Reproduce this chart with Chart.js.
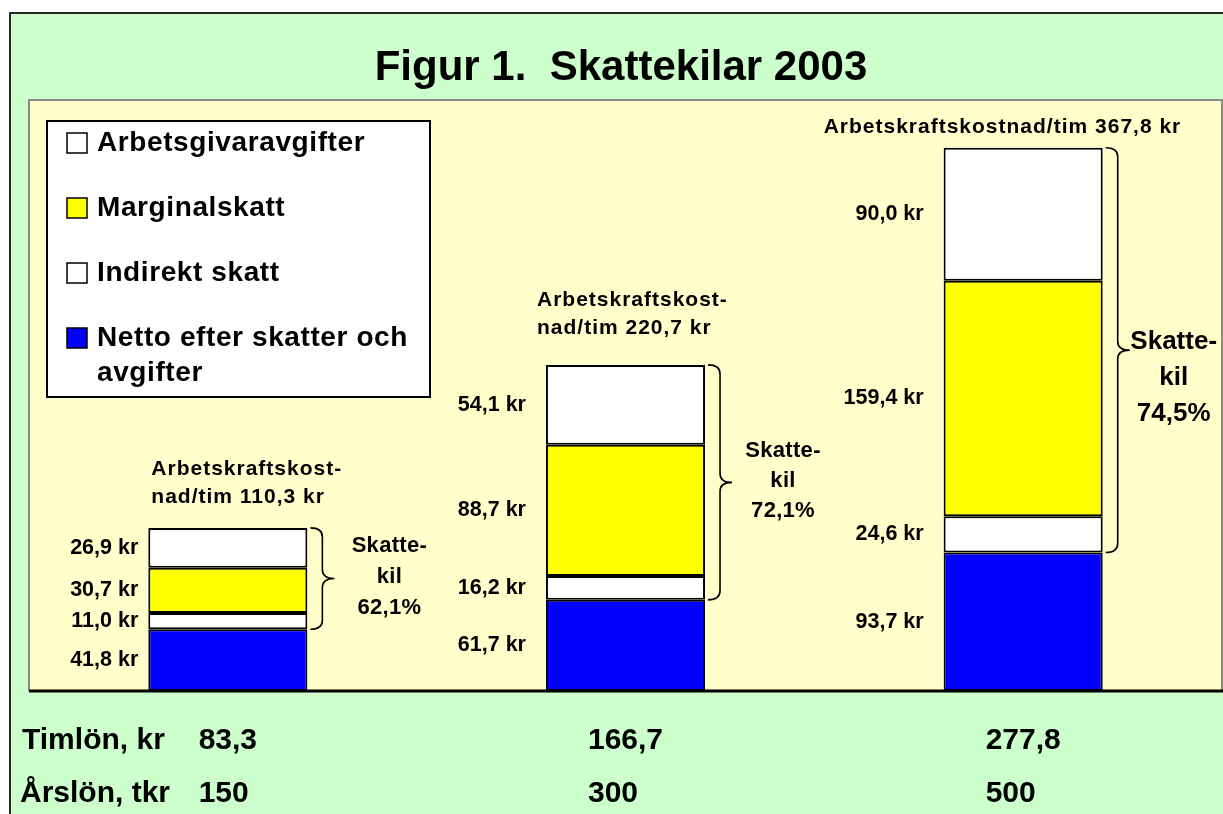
<!DOCTYPE html>
<html>
<head>
<meta charset="utf-8">
<script src="https://cdn.jsdelivr.net/npm/chart.js@4/dist/chart.umd.min.js"></script>
<style>
html,body{margin:0;padding:0;background:#fff;}
#wrap{width:1223px;height:814px;position:relative;}
</style>
</head>
<body>
<div id="wrap"><canvas id="c" width="1223" height="814"></canvas></div>
<script>
// ---- Data ----
const categories = ['150', '300', '500'];
const netto = [41.8, 61.7, 93.7];
const indirektSkatt = [11.0, 16.2, 24.6];
const marginalskatt = [30.7, 88.7, 159.4];
const arbetsgivaravgifter = [26.9, 54.1, 90.0];
const arbetskraftskostnad = [110.3, 220.7, 367.8];
const skattekil = [62.1, 72.1, 74.5];
const timlon = [83.3, 166.7, 277.8];
const arslon = [150, 300, 500];

const seriesNames = ['Netto efter skatter och avgifter', 'Indirekt skatt', 'Marginalskatt', 'Arbetsgivaravgifter'];
const seriesColors = ['#0000FF', '#FFFFFF', '#FFFF00', '#FFFFFF'];
const seriesValues = [netto, indirektSkatt, marginalskatt, arbetsgivaravgifter];

const FONT = '"Liberation Sans", Arial, Helvetica, sans-serif';
function fmt(v) { return v.toFixed(1).replace('.', ','); }

const decorPlugin = {
  id: 'decor',
  beforeDraw(chart) {
    const ctx = chart.ctx;
    const W = chart.width, H = chart.height;
    const { left, top, right, bottom } = chart.chartArea;
    ctx.save();
    ctx.fillStyle = '#FFFFFF';
    ctx.fillRect(0, 0, W, H);
    ctx.fillStyle = '#CCFFCC';
    ctx.fillRect(10, 13, W - 10, H - 13);
    ctx.strokeStyle = '#2a2a2a';
    ctx.lineWidth = 2;
    ctx.beginPath();
    ctx.moveTo(10, H); ctx.lineTo(10, 13); ctx.lineTo(W, 13);
    ctx.stroke();
    // plot area
    ctx.fillStyle = '#FFFFCC';
    ctx.fillRect(left, top, right - left, bottom - top);
    ctx.strokeStyle = '#8a8a8a';
    ctx.lineWidth = 2;
    ctx.beginPath();
    ctx.moveTo(left, bottom); ctx.lineTo(left, top); ctx.lineTo(right, top); ctx.lineTo(right, bottom);
    ctx.stroke();
    // title
    ctx.fillStyle = '#000';
    ctx.font = 'bold 42px ' + FONT;
    ctx.textAlign = 'center';
    ctx.textBaseline = 'middle';
    ctx.fillText('Figur 1.  Skattekilar 2003', 621, 68);
    ctx.restore();
  },
  afterDatasetsDraw(chart) {
    const ctx = chart.ctx;
    const { left, right, bottom } = chart.chartArea;
    const metas = chart.data.datasets.map((d, i) => chart.getDatasetMeta(i));
    ctx.save();
    // axis line
    ctx.strokeStyle = '#000';
    ctx.lineWidth = 3;
    ctx.beginPath();
    ctx.moveTo(left, bottom); ctx.lineTo(chart.width, bottom);
    ctx.stroke();

    ctx.fillStyle = '#000';
    const labelGap = [10, 20, 20];
    // segment value labels
    ctx.font = 'bold 21.5px ' + FONT;
    ctx.letterSpacing = '0px';
    ctx.textAlign = 'right';
    ctx.textBaseline = 'middle';
    metas.forEach((meta, i) => {
      meta.data.forEach((el, j) => {
        const v = chart.data.datasets[i].data[j];
        const x = el.x - el.width / 2 - labelGap[j];
        ctx.fillText(fmt(v) + ' kr', x, (el.y + el.base) / 2);
      });
    });

    // top labels: Arbetskraftskostnad
    const topDx = [3, -9, -120];
    const topDy = [-31, -37, -21];
    const wrapTop = [true, true, false];
    ctx.font = 'bold 21px ' + FONT;
    ctx.letterSpacing = '1px';
    ctx.textAlign = 'left';
    const lastMeta = metas[metas.length - 1];
    lastMeta.data.forEach((el, j) => {
      const x = el.x - el.width / 2 + topDx[j];
      const y = el.y + topDy[j];
      const tot = fmt(arbetskraftskostnad[j]);
      if (wrapTop[j]) {
        ctx.fillText('Arbetskraftskost-', x, y - 28);
        ctx.fillText('nad/tim ' + tot + ' kr', x, y);
      } else {
        ctx.fillText('Arbetskraftskostnad/tim ' + tot + ' kr', x, y);
      }
    });

    // braces and Skattekil text
    const kilFont = [22, 22, 26];
    const kilDx = [82, 78, 71];
    const kilLine = [31, 30, 36];
    const kilDy = [-2, -1, 28];
    ctx.letterSpacing = '0px';
    lastMeta.data.forEach((el, j) => {
      const topY = el.y;
      const botY = metas[0].data[j].y;
      const barRight = el.x + el.width / 2;
      const x0 = barRight + 3, xm = x0 + 12, xp = x0 + 24, r = 9;
      const mid = (topY + botY) / 2;
      ctx.strokeStyle = '#000';
      ctx.lineWidth = 1.6;
      ctx.beginPath();
      ctx.moveTo(x0, topY);
      ctx.quadraticCurveTo(xm, topY, xm, topY + r);
      ctx.lineTo(xm, mid - r);
      ctx.quadraticCurveTo(xm, mid, xp, mid);
      ctx.quadraticCurveTo(xm, mid, xm, mid + r);
      ctx.lineTo(xm, botY - r);
      ctx.quadraticCurveTo(xm, botY, x0, botY);
      ctx.stroke();

      ctx.font = 'bold ' + kilFont[j] + 'px ' + FONT;
      ctx.letterSpacing = j < 2 ? '0.3px' : '0px';
      ctx.textAlign = 'center';
      const cx = barRight + kilDx[j];
      const cy = mid + kilDy[j];
      ctx.fillText('Skatte-', cx, cy - kilLine[j]);
      ctx.fillText('kil', cx, cy);
      ctx.fillText(fmt(skattekil[j]) + '%', cx, cy + kilLine[j]);
    });

    // legend box
    const lx = 47, ly = 121, lw = 383, lh = 276;
    ctx.fillStyle = '#FFFFFF';
    ctx.fillRect(lx, ly, lw, lh);
    ctx.strokeStyle = '#000';
    ctx.lineWidth = 2;
    ctx.strokeRect(lx, ly, lw, lh);
    ctx.font = 'bold 28px ' + FONT;
    ctx.letterSpacing = '0.6px';
    ctx.textAlign = 'left';
    ctx.textBaseline = 'middle';
    const items = chart.data.datasets.map((d, i) => ({ text: d.label, color: d.backgroundColor })).reverse();
    let y = 143;
    const maxW = 330;
    items.forEach(it => {
      ctx.fillStyle = it.color;
      ctx.fillRect(67, y - 10, 20, 20);
      ctx.strokeStyle = '#000';
      ctx.lineWidth = 1.5;
      ctx.strokeRect(67, y - 10, 20, 20);
      ctx.fillStyle = '#000';
      const words = it.text.split(' ');
      let line = '';
      let yy = y;
      words.forEach(w => {
        const test = line ? line + ' ' + w : w;
        if (line && ctx.measureText(test).width > maxW) {
          ctx.fillText(line, 97, yy);
          yy += 35;
          line = w;
        } else {
          line = test;
        }
      });
      ctx.fillText(line, 97, yy);
      y += 65;
    });

    // bottom rows
    ctx.letterSpacing = '0px';
    ctx.font = 'bold 30px ' + FONT;
    ctx.fillStyle = '#000';
    ctx.textAlign = 'left';
    ctx.fillText('Timlön, kr', 22, 741);
    ctx.fillText('Årslön, tkr', 20, 794);
    const xs = chart.scales.x;
    categories.forEach((c, j) => {
      const cx = xs.getPixelForValue(j);
      const t = fmt(timlon[j]);
      const x = cx - ctx.measureText(t).width / 2;
      ctx.fillText(t, x, 741);
      ctx.fillText(String(arslon[j]), x, 794);
    });
    ctx.restore();
  }
};

new Chart(document.getElementById('c'), {
  type: 'bar',
  data: {
    labels: categories,
    datasets: seriesNames.map((name, i) => ({
      label: name,
      data: seriesValues[i],
      backgroundColor: seriesColors[i],
      borderColor: '#000000',
      borderWidth: 2,
      borderSkipped: false,
      categoryPercentage: 0.8,
      barPercentage: 0.5
    }))
  },
  options: {
    responsive: false,
    animation: false,
    layout: { padding: { left: 29, top: 100, right: 1, bottom: 123 } },
    plugins: { legend: { display: false }, tooltip: { enabled: false }, title: { display: false } },
    scales: {
      x: { stacked: true, display: false },
      y: { stacked: true, display: false, min: 0, max: 400 }
    }
  },
  plugins: [decorPlugin]
});
</script>
</body>
</html>
